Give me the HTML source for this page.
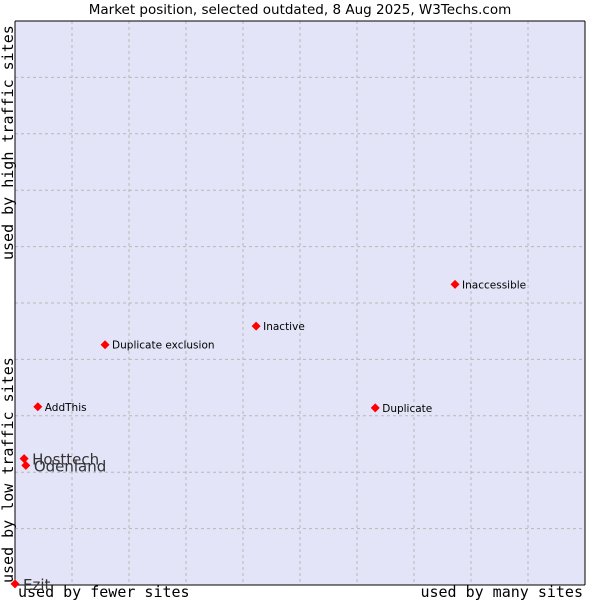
<!DOCTYPE html>
<html><head><meta charset="utf-8"><style>
body{margin:0;background:#fff;width:600px;height:600px;overflow:hidden}
svg{display:block}
</style></head><body>
<svg id="chart" width="600" height="600" xmlns="http://www.w3.org/2000/svg">
<text x="300" y="14" text-anchor="middle" font-family="DejaVu Sans, sans-serif" font-size="13.5" fill="#000">Market position, selected outdated, 8 Aug 2025, W3Techs.com</text>
<rect x="15" y="21" width="570" height="564" fill="#e3e4f8"/>
<g id="grid"></g>
<line x1="15" y1="21" x2="15" y2="585" stroke="#000"/>
<line x1="15" y1="585" x2="585" y2="585" stroke="#000"/>
<line x1="15" y1="21" x2="585" y2="21" stroke="#000"/>
<line x1="585" y1="21" x2="585" y2="585" stroke="#000"/>
<text x="18" y="597" font-family="DejaVu Sans Mono, monospace" font-size="15">used by fewer sites</text>
<text x="583" y="597" text-anchor="end" font-family="DejaVu Sans Mono, monospace" font-size="15">used by many sites</text>
<text transform="translate(13,583) rotate(-90)" font-family="DejaVu Sans Mono, monospace" font-size="15">used by low traffic sites</text>
<text transform="translate(13,260) rotate(-90)" font-family="DejaVu Sans Mono, monospace" font-size="15">used by high traffic sites</text>
<g id="points"></g>
</svg>
<script>
const names=["Ezit","Hosttech","Odenland","AddThis","Duplicate exclusion","Inactive","Duplicate","Inaccessible"];
const xValues=[0,1.6,1.9,4.0,15.8,42.3,63.2,77.2];
const yValues=[0.2,22.4,21.2,31.6,42.6,45.9,31.4,53.3];
const bigLabels=["Ezit","Hosttech","Odenland"];
const NS="http://www.w3.org/2000/svg";
const L=15,R=585,T=21,B=585;
const xs=v=>L+v/100*(R-L);
const ys=v=>B-v/100*(B-T);
const grid=document.getElementById('grid');
for(let i=1;i<10;i++){
  const gx=document.createElementNS(NS,'line');
  
  
  gx.setAttribute('x1',xs(i*10));gx.setAttribute('x2',xs(i*10));gx.setAttribute('y1',T);gx.setAttribute('y2',B);
  gx.setAttribute('stroke','#b8b8b8');gx.setAttribute('stroke-dasharray','3,3');
  grid.appendChild(gx);
  const gy=document.createElementNS(NS,'line');
  
  
  gy.setAttribute('y1',ys(i*10));gy.setAttribute('y2',ys(i*10));gy.setAttribute('x1',L);gy.setAttribute('x2',R);
  gy.setAttribute('stroke','#b8b8b8');gy.setAttribute('stroke-dasharray','3,3');
  grid.appendChild(gy);
}
const pts=document.getElementById('points');
names.forEach((n,i)=>{
  const x=xs(xValues[i]),y=ys(yValues[i]);
  const d=document.createElementNS(NS,'path');
  
  
  d.setAttribute('d',`M${x} ${y-4.5}L${x+4.5} ${y}L${x} ${y+4.5}L${x-4.5} ${y}Z`);
  d.setAttribute('fill','#f00');
  pts.appendChild(d);
  const big=bigLabels.includes(n);
  const t=document.createElementNS(NS,'text');
  
  
  t.setAttribute('x',x+(big?8:7));
  t.setAttribute('y',y+(big?6:4));
  t.setAttribute('font-family','DejaVu Sans, sans-serif');
  t.setAttribute('font-size',big?'15':'10.5');
  t.setAttribute('fill',big?'#333':'#000');
  t.textContent=n;
  pts.appendChild(t);
});
</script>
</body></html>
